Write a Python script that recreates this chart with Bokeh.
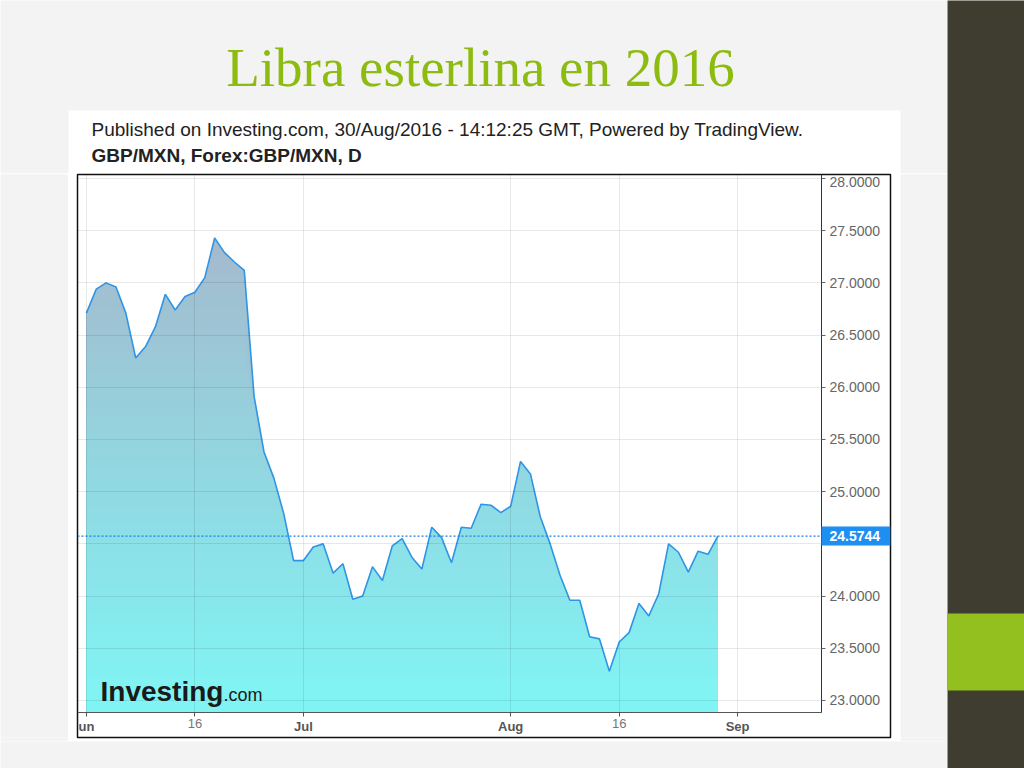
import numpy as np
from bokeh.plotting import figure
from bokeh.layouts import row, column
from bokeh.models import (Range1d, FixedTicker, NumeralTickFormatter, Label, Span, LinearAxis,
                          BoxAnnotation, Grid)
from bokeh.core.properties import value
from bokeh.embed import file_html
from bokeh.resources import INLINE

# ---------------- data ----------------
title_text = "Libra esterlina en 2016"
header_line1 = "Published on Investing.com, 30/Aug/2016 - 14:12:25 GMT, Powered by TradingView."
header_line2 = "GBP/MXN, Forex:GBP/MXN, D"

# trading-day index (1 Jun 2016 .. 30 Aug 2016)
day_index = list(range(65))
gbp_mxn = [
    26.71, 26.94, 27.00, 26.96, 26.71, 26.28, 26.39, 26.58, 26.89, 26.74, 26.87,
    26.91, 27.05, 27.43, 27.29, 27.20, 27.12, 25.91, 25.38, 25.13, 24.79, 24.34,
    24.34, 24.47, 24.50, 24.22, 24.31, 23.97, 24.00, 24.28, 24.15, 24.48, 24.55,
    24.37, 24.26, 24.66, 24.56, 24.32, 24.66, 24.65, 24.88, 24.87, 24.80, 24.86,
    25.29, 25.17, 24.76, 24.50, 24.20, 23.96, 23.96, 23.61, 23.59, 23.28, 23.56,
    23.65, 23.93, 23.81, 24.02, 24.50, 24.42, 24.23, 24.43, 24.40, 24.5744,
]
last_price = 24.5744

x_tick_pos = [0, 11, 22, 43, 54, 66]
x_tick_labels = ["un", "16", "Jul", "Aug", "16", "Sep"]
x_tick_bold = [True, False, True, True, False, True]
y_ticks = [23.0, 23.5, 24.0, 24.5, 25.0, 25.5, 26.0, 26.5, 27.0, 27.5, 28.0]

# ---------------- styling / layout constants ----------------
BG = "#f3f3f3"
DARK = "#3f3d2f"
GREEN = "#93c01f"
TAG_BLUE = "#1e8ff0"
LABEL_FONT = "Liberation Sans"

PLOT_X = (-0.9, 74.5)       # data extent of the plotting area
PLOT_Y = (22.885, 28.038)
PLOT_W, PLOT_H = 744, 538   # its size in pixels
AXIS_W, AXIS_H = 69, 25     # room for the price axis / date axis inside the chart box
ppu_x = PLOT_W / (PLOT_X[1] - PLOT_X[0])
ppu_y = PLOT_H / (PLOT_Y[1] - PLOT_Y[0])


def deco_fig(w, h, x0, x1, y0, y1, bg):
    f = figure(width=w, height=h, x_range=Range1d(x0, x1), y_range=Range1d(y1, y0),
               x_axis_type=None, y_axis_type=None, min_border=0, outline_line_color=None,
               toolbar_location=None, output_backend="svg",
               background_fill_color=bg, border_fill_color=bg)
    f.grid.visible = False
    return f


# ---------------- top area: title + header ----------------
top = deco_fig(947, 173, 0, 947, 0, 173, BG)
top.quad(left=[68], right=[900], top=[110], bottom=[174], fill_color="white", line_color=None)
top.text(x=[480], y=[67], text=[title_text], text_font=value("Liberation Serif"),
         text_font_size="55px", text_color="#8dbb10", text_align="center", text_baseline="middle")
top.text(x=[91], y=[129], text=[header_line1], text_font=value(LABEL_FONT),
         text_font_size="19px", text_color="#222222", text_align="left", text_baseline="middle")
top.text(x=[91], y=[155], text=[header_line2], text_font=value(LABEL_FONT),
         text_font_size="19px", text_font_style="bold", text_color="#222222",
         text_align="left", text_baseline="middle")

left = deco_fig(68, 568, 0, 68, 0, 568, BG)
right = deco_fig(47, 568, 0, 47, 0, 568, BG)
bottom = deco_fig(947, 27, 0, 947, 0, 27, BG)
side = deco_fig(77, 768, 947, 1024, 0, 768, DARK)
side.quad(left=[947], right=[1024], top=[613], bottom=[690], fill_color=GREEN, line_color=None)

# ---------------- main chart (frame = whole chart box incl. axis strips) ----------------
p = figure(
    width=832, height=568, output_backend="svg", toolbar_location=None,
    x_range=Range1d(PLOT_X[0], PLOT_X[1] + AXIS_W / ppu_x),
    y_range=Range1d(PLOT_Y[0] - AXIS_H / ppu_y, PLOT_Y[1]),
    y_axis_location="right",
    min_border_left=9, min_border_top=1, min_border_right=10, min_border_bottom=4,
    background_fill_color="white", border_fill_color="white",
    outline_line_color="#111111", outline_line_width=1.5,
)

xa = p.xaxis[0]
xa.fixed_location = PLOT_Y[0]
xa.bounds = PLOT_X
xa.ticker = FixedTicker(ticks=x_tick_pos)
xa.major_label_overrides = {pos: (lab if b else "") for pos, lab, b in zip(x_tick_pos, x_tick_labels, x_tick_bold)}
xa.major_label_text_font = LABEL_FONT
xa.major_label_text_font_size = "13px"
xa.major_label_text_font_style = "bold"
xa.major_label_text_color = "#555555"
xa.major_tick_out = 4
xa.major_tick_in = 0
xa.minor_tick_line_color = None
xa.axis_line_color = "#555555"
xa.major_tick_line_color = "#555555"
xa.major_label_standoff = 2

x16 = LinearAxis(fixed_location=PLOT_Y[0], bounds=PLOT_X,
                 ticker=FixedTicker(ticks=[t for t, b in zip(x_tick_pos, x_tick_bold) if not b]),
                 major_label_overrides={t: lab for t, lab, b in zip(x_tick_pos, x_tick_labels, x_tick_bold) if not b},
                 major_label_text_font=LABEL_FONT, major_label_text_font_size="13px",
                 major_label_text_color="#777777", major_tick_out=4, major_tick_in=0,
                 major_tick_line_color=None, minor_tick_line_color=None, axis_line_color=None,
                 major_label_standoff=2)
p.add_layout(x16, "below")

ya = p.yaxis[0]
ya.fixed_location = PLOT_X[1]
ya.bounds = PLOT_Y
ya.ticker = FixedTicker(ticks=y_ticks)
ya.formatter = NumeralTickFormatter(format="0.0000")
ya.major_label_overrides = {24.5: "", 28.0: ""}
ya.major_label_text_font = LABEL_FONT
ya.major_label_text_font_size = "14px"
ya.major_label_text_color = "#666666"
ya.major_tick_out = 4
ya.major_tick_in = 0
ya.minor_tick_line_color = None
ya.axis_line_color = "#333333"
ya.major_tick_line_color = "#666666"
ya.major_label_standoff = 4

# top tick label, nudged just inside the box so that it is not cut
p.add_layout(Label(x=PLOT_X[1], y=y_ticks[-1] - 4 / ppu_y, x_offset=8,
                   text=f"{y_ticks[-1]:.4f}",
                   text_align="left", text_baseline="middle", text_font=LABEL_FONT,
                   text_font_size="14px", text_color="#666666"))

# grid lines limited to the plotting area
grid_props = Grid.properties()
if "cross_bounds" in grid_props:
    p.xgrid[0].bounds = PLOT_X
    p.xgrid[0].cross_bounds = PLOT_Y
    p.ygrid[0].bounds = PLOT_Y
    p.ygrid[0].cross_bounds = PLOT_X
    for g in (p.xgrid[0], p.ygrid[0]):
        g.grid_line_color = "black"
        g.grid_line_alpha = 0.09
        g.level = "overlay"
else:
    p.xgrid.visible = False
    p.ygrid.visible = False
    gx = LinearAxis(fixed_location=PLOT_Y[0], bounds=PLOT_X, ticker=FixedTicker(ticks=x_tick_pos),
                    major_tick_in=PLOT_H, major_tick_out=0, major_tick_line_color="black",
                    major_tick_line_alpha=0.09, minor_tick_line_color=None, axis_line_color=None,
                    major_label_text_font_size="0px")
    p.add_layout(gx, "below")
    gy = LinearAxis(fixed_location=PLOT_X[1], bounds=PLOT_Y, ticker=FixedTicker(ticks=y_ticks),
                    major_tick_in=PLOT_W, major_tick_out=0, major_tick_line_color="black",
                    major_tick_line_alpha=0.09, minor_tick_line_color=None, axis_line_color=None,
                    major_label_text_font_size="0px")
    p.add_layout(gy, "right")

# ---------------- gradient area ----------------
vals = np.array(gbp_mxn)
y0 = PLOT_Y[0]
top_rgb = np.array([169, 178, 200])
bot_rgb = np.array([128, 244, 244])
edges = np.linspace(y0, PLOT_Y[1], 61)
step = edges[1] - edges[0]
for k in range(len(edges) - 2, -1, -1):
    upper = edges[k + 1]
    if upper - step > vals.max():
        continue
    mid = 0.5 * (edges[k] + edges[k + 1])
    t = min(max((mid - 23.0) / 5.0, 0.0), 1.0)
    c = (bot_rgb + (top_rgb - bot_rgb) * t).round().astype(int)
    col = "#%02x%02x%02x" % tuple(c)
    p.varea(x=day_index, y1=np.full(len(vals), y0), y2=np.minimum(vals, upper),
            fill_color=col, fill_alpha=1.0)

p.line(day_index, gbp_mxn, line_color="#2f95e6", line_width=1.6)

# last price dotted line + tag
p.add_layout(Span(location=last_price, dimension="width", line_color="#1e7fe0",
                  line_dash="2 2", line_width=1.2))
p.add_layout(BoxAnnotation(left=PLOT_X[1], top=last_price + 9.5 / ppu_y, bottom=last_price - 9.5 / ppu_y,
                           fill_color=TAG_BLUE, fill_alpha=1, line_color=None))
p.add_layout(Label(x=PLOT_X[1], y=last_price, x_offset=8, text=f"{last_price:.4f}",
                   text_align="left", text_baseline="middle", text_font=LABEL_FONT,
                   text_font_size="14px", text_font_style="bold", text_color="white"))

# logo
p.add_layout(Label(x=PLOT_X[0] + 23 / ppu_x, y=23.0 + 9 / ppu_y, text="Investing",
                   text_align="left", text_baseline="middle", text_font=LABEL_FONT,
                   text_font_size="28px", text_font_style="bold", text_color="#1a1a1a"))
p.add_layout(Label(x=PLOT_X[0] + 146 / ppu_x, y=23.0 + 5 / ppu_y, text=".com",
                   text_align="left", text_baseline="middle", text_font=LABEL_FONT,
                   text_font_size="18px", text_color="#1a1a1a"))

layout = row(column(top, row(left, p, right), bottom), side)
open("out.html", "w").write(file_html(layout, INLINE))
